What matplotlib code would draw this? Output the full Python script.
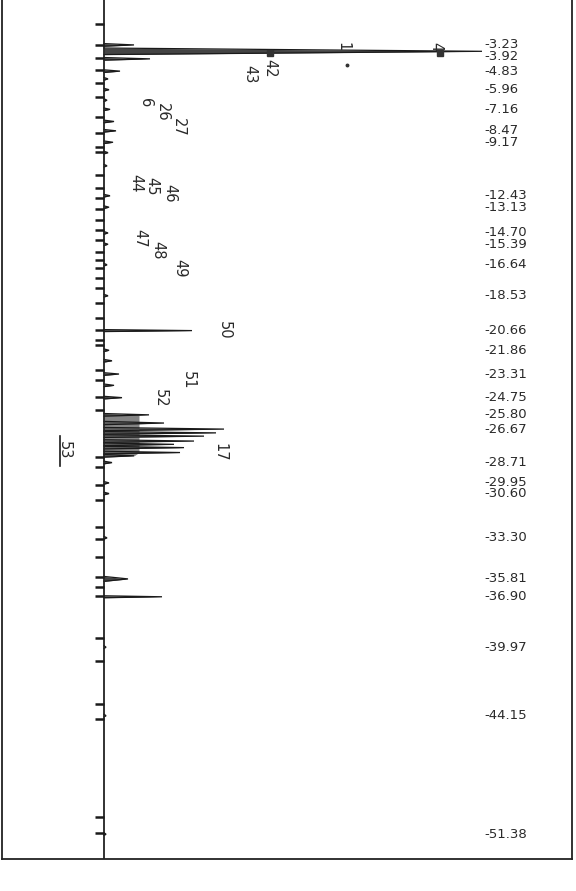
import numpy as np
import matplotlib.pyplot as plt

# retention times printed down the right-hand side (min)
rt_labels = [3.23, 3.92, 4.83, 5.96, 7.16, 8.47, 9.17, 12.43, 13.13, 14.70,
             15.39, 16.64, 18.53, 20.66, 21.86, 23.31, 24.75, 25.80, 26.67,
             28.71, 29.95, 30.60, 33.30, 35.81, 36.90, 39.97, 44.15, 51.38]

# peak apex times (min) and heights (detector units)
peak_rt = [3.23, 3.62, 4.08, 4.83, 5.30, 5.96, 6.60, 7.16, 7.90, 8.47, 9.17,
           9.80, 10.60, 12.43, 13.13, 14.70, 15.39, 16.64, 18.53, 20.66,
           21.86, 22.50, 23.31, 24.00, 24.75, 25.80, 26.30, 26.67, 26.90,
           27.10, 27.40, 27.60, 27.80, 28.10, 28.30, 28.71, 29.95, 30.60,
           33.30, 35.81, 36.90, 39.97, 44.15, 51.38]
peak_height = [30, 378, 46, 16, 4, 5, 3, 6, 10, 12, 9,
               4, 3, 6, 5, 4, 4, 3, 4, 88,
               5, 8, 15, 10, 18, 45, 60, 120, 112,
               100, 90, 70, 80, 76, 30, 8, 5, 5,
               3, 24, 58, 2, 2, 2]
peak_halfwidth = [0.08, 0.20, 0.08, 0.08, 0.08, 0.08, 0.08, 0.08, 0.08, 0.08,
                  0.08, 0.08, 0.08, 0.08, 0.08, 0.08, 0.08, 0.08, 0.08, 0.06,
                  0.08, 0.08, 0.08, 0.08, 0.08, 0.08, 0.10, 0.10, 0.08, 0.08,
                  0.08, 0.08, 0.08, 0.08, 0.08, 0.08, 0.08, 0.08, 0.08, 0.15,
                  0.06, 0.08, 0.08, 0.08]

# integrator event marks along the baseline (min)
event_rt = [1.95, 3.23, 4.02, 4.76, 5.55, 6.40, 7.62, 8.60, 9.45, 9.76, 11.16,
            11.95, 12.56, 13.24, 13.91, 14.52, 15.13, 15.86, 16.35, 16.84,
            17.45, 18.06, 18.97, 19.89, 20.62, 21.23, 21.53, 23.06, 23.67,
            24.71, 25.50, 28.37, 28.98, 30.08, 31.00, 32.64, 33.37, 34.47,
            35.69, 36.30, 36.85, 39.41, 40.81, 43.44, 44.35, 50.33, 51.31]

# peak numbers written by the integrator, with where they sit (x, min)
peak_numbers = ["1", "4", "42", "43", "6", "26", "27", "44", "45", "46",
                "47", "48", "49", "50", "51", "52", "17", "53"]
number_x = [239, 332, 166, 146, 42, 58, 74, 32, 48, 66,
            36, 54, 76, 120, 84, 56, 116, -40]
number_rt = [3.35, 3.35, 4.63, 5.00, 6.77, 7.32, 8.29, 11.65, 11.83, 12.26,
             15.00, 15.74, 16.83, 20.62, 23.67, 24.77, 28.06, 27.94]

fig = plt.figure(figsize=(5.76, 8.91), dpi=100)
ax = fig.add_axes([2 / 576, 32 / 891, 570 / 576, 859 / 891])

ax.set_xlim(-102, 468)
ax.set_ylim(52.9, 0.49)

# baseline of the trace
ax.axvline(0, color="#222222", lw=1.3, zorder=3)

# peaks as narrow triangles off the baseline
for t, h, w in zip(peak_rt, peak_height, peak_halfwidth):
    ys = [t - w, t, t + w]
    xs = [0, h, 0]
    ax.fill_betweenx(ys, 0, xs, color="#444444", lw=0)
    ax.plot(xs, ys, color="#1a1a1a", lw=0.9, solid_joinstyle="miter")

# shaded envelope under the crowded group
grp = [i for i, t in enumerate(peak_rt) if 25.5 < t < 28.5]
ax.fill_betweenx([peak_rt[i] for i in grp],
                 0, [min(peak_height[i], 35) for i in grp],
                 color="#666666", alpha=0.8, lw=0)

ax.hlines(event_rt, -9, 0, color="#1a1a1a", lw=1.8, zorder=3)

# apex flags the integrator drew on the solvent peak
ax.plot([336, 166], [3.72, 3.72], ls="none", marker="s", ms=4.5,
        color="#333333")
ax.plot([243], [4.45], ls="none", marker="o", ms=1.8, color="#333333")

for t in rt_labels:
    ax.text(380, t, "-%.2f" % t, va="center", ha="left", fontsize=9.5,
            color="#2a2a2a", family="DejaVu Sans")

for s, x, t in zip(peak_numbers, number_x, number_rt):
    ax.text(x, t, s, rotation=-90, va="center", ha="center", fontsize=10.5,
            color="#2a2a2a", family="DejaVu Sans")

# short bar beside peak 53
ax.plot([-44, -44], [27.1, 28.9], color="#1a1a1a", lw=1.2)

ax.set_xticks([])
ax.set_yticks([])
ax.spines["top"].set_visible(False)
for side in ("left", "right", "bottom"):
    ax.spines[side].set_linewidth(1.3)
    ax.spines[side].set_color("#222222")

fig.savefig("out.png", dpi=100, facecolor="white")
